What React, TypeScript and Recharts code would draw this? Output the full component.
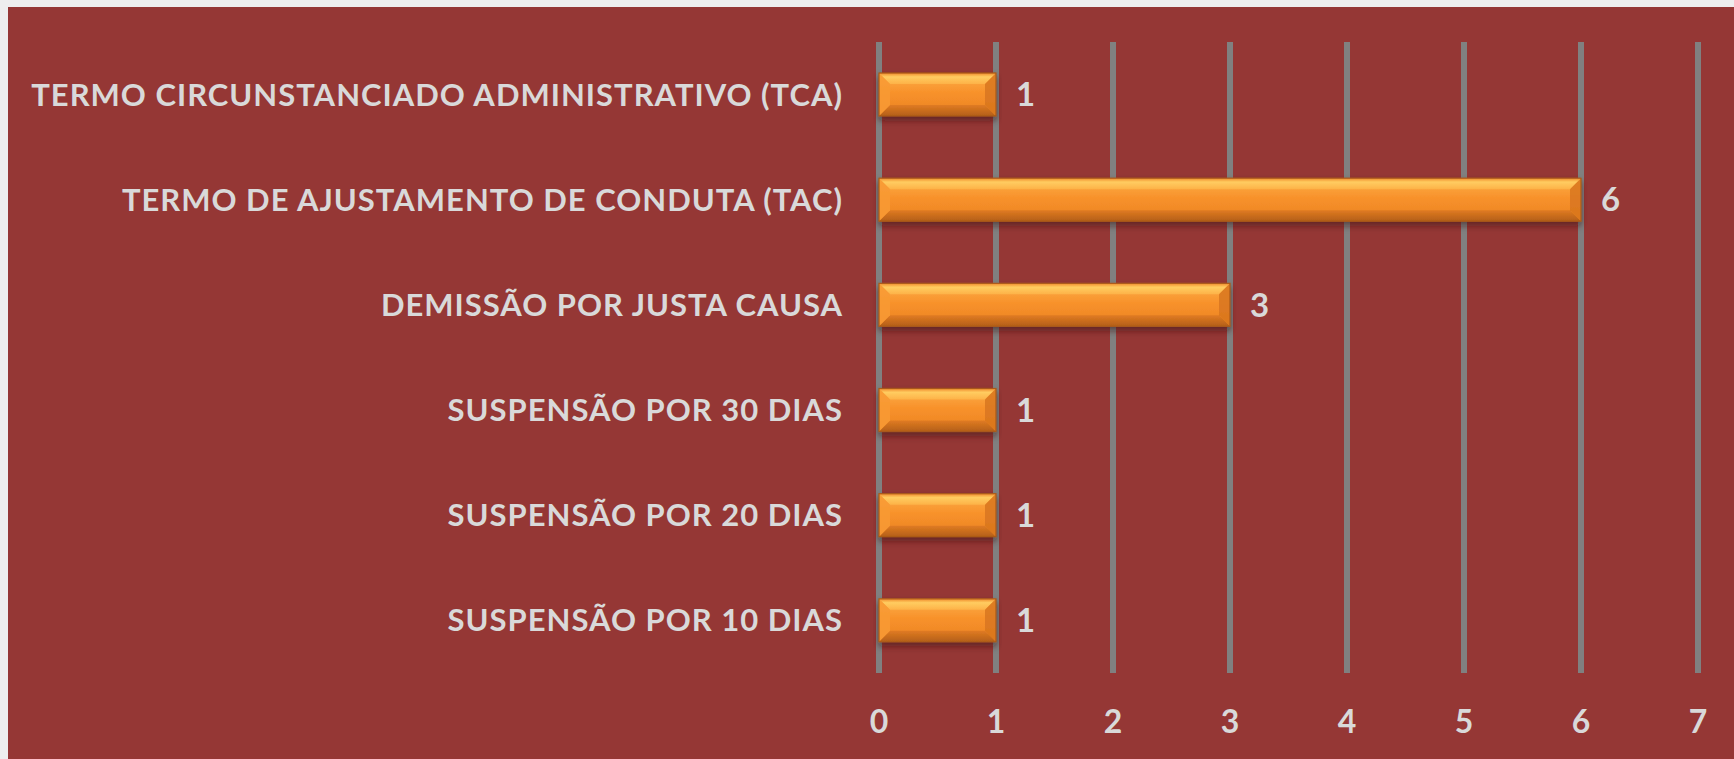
import React from 'react';
import {
  BarChart,
  Bar,
  XAxis,
  YAxis,
  CartesianGrid,
  LabelList,
} from 'recharts';

const categories = [
  'TERMO CIRCUNSTANCIADO ADMINISTRATIVO (TCA)',
  'TERMO DE AJUSTAMENTO DE CONDUTA (TAC)',
  'DEMISSÃO POR JUSTA CAUSA',
  'SUSPENSÃO POR 30 DIAS',
  'SUSPENSÃO POR 20 DIAS',
  'SUSPENSÃO POR 10 DIAS',
];
const values = [1, 6, 3, 1, 1, 1];
const xTicks = [0, 1, 2, 3, 4, 5, 6, 7];

const chartData = categories.map((name, i) => ({ name, value: values[i] }));

const LABEL_COLOR = '#d9d9d9';
const FONT = 'Lato, "Open Sans", sans-serif';

// orange bar with bevelled edges, like the Excel preset
const BevelBar = (props: any) => {
  const { x, y, width, height } = props;
  if (!width || width <= 0) return null;
  const b = Math.min(11, height / 3, width / 2);
  const r = x + width;
  const btm = y + height;
  return (
    <g filter="url(#barShadow)">
      <rect x={x} y={y} width={width} height={height} fill="url(#barFace)" />
      <polygon points={`${x},${y} ${r},${y} ${r - b},${y + b} ${x + b},${y + b}`} fill="url(#topBevel)" />
      <polygon points={`${x},${btm} ${r},${btm} ${r - b},${btm - b} ${x + b},${btm - b}`} fill="url(#bottomBevel)" />
      <polygon points={`${x},${y} ${x + b},${y + b} ${x + b},${btm - b} ${x},${btm}`} fill="#f89a34" opacity={0.85} />
      <polygon points={`${r},${y} ${r - b},${y + b} ${r - b},${btm - b} ${r},${btm}`} fill="#d8761f" opacity={0.85} />
      <rect x={x} y={y} width={width} height={height} fill="none" stroke="#a9591a" strokeWidth={1.2} />
    </g>
  );
};

export default function App() {
  return (
    <div style={{ position: 'absolute', left: 0, top: 0, width: 1734, height: 759, background: '#eeeeee', overflow: 'hidden' }}>
      <div style={{ position: 'absolute', left: 8, top: 7, width: 1726, height: 752, background: '#953735' }} />
      <div style={{ position: 'absolute', left: 0, top: 0 }}>
        <BarChart
          width={1734}
          height={759}
          data={chartData}
          layout="vertical"
          margin={{ top: 42, right: 36, left: 0, bottom: 0 }}
          barSize={43}
        >
          <defs>
            <linearGradient id="barFace" x1="0" y1="0" x2="0" y2="1">
              <stop offset="0%" stopColor="#fcb04a" />
              <stop offset="45%" stopColor="#f8922b" />
              <stop offset="100%" stopColor="#ea8223" />
            </linearGradient>
            <linearGradient id="topBevel" x1="0" y1="0" x2="0" y2="1">
              <stop offset="0%" stopColor="#f08a2c" />
              <stop offset="35%" stopColor="#ffcc60" />
              <stop offset="100%" stopColor="#fdb248" />
            </linearGradient>
            <linearGradient id="bottomBevel" x1="0" y1="0" x2="0" y2="1">
              <stop offset="0%" stopColor="#e07b22" />
              <stop offset="100%" stopColor="#b45f18" />
            </linearGradient>
            <filter id="barShadow" x="-5%" y="-30%" width="110%" height="170%">
              <feDropShadow dx="0" dy="4" stdDeviation="3" floodColor="#3a0c0b" floodOpacity="0.55" />
            </filter>
          </defs>
          <CartesianGrid horizontal={false} stroke="#808080" strokeWidth={6} />
          <XAxis
            type="number"
            domain={[0, 7]}
            ticks={xTicks}
            axisLine={false}
            tickLine={false}
            tickSize={0}
            tickMargin={37}
            height={86}
            interval={0}
            tick={{ fill: LABEL_COLOR, fontSize: 32, fontWeight: 700, fontFamily: FONT }}
          />
          <YAxis
            type="category"
            dataKey="name"
            width={879}
            axisLine={false}
            tickLine={false}
            tickSize={0}
            tickMargin={36}
            interval={0}
            tick={{ fill: LABEL_COLOR, fontSize: 31, fontWeight: 700, fontFamily: FONT, letterSpacing: 1 }}
          />
          <Bar dataKey="value" shape={<BevelBar />} isAnimationActive={false}>
            <LabelList
              dataKey="value"
              position="right"
              offset={20}
              style={{ fill: LABEL_COLOR, fontSize: 33, fontWeight: 700, fontFamily: FONT }}
            />
          </Bar>
        </BarChart>
      </div>
    </div>
  );
}
